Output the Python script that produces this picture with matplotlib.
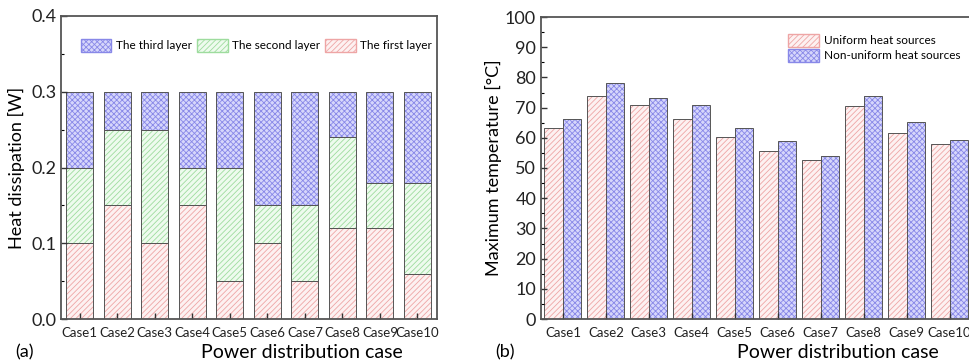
import numpy as np
import matplotlib.pyplot as plt
from matplotlib.patches import Patch

plt.rcParams['font.family'] = ['Lato', 'DejaVu Sans']
plt.rcParams['hatch.linewidth'] = 0.6

cases = ['Case1', 'Case2', 'Case3', 'Case4', 'Case5', 'Case6', 'Case7', 'Case8', 'Case9', 'Case10']

# (a) heat dissipation per layer [W]
first_layer = [0.10, 0.15, 0.10, 0.15, 0.05, 0.10, 0.05, 0.12, 0.12, 0.06]
second_layer = [0.10, 0.10, 0.15, 0.05, 0.15, 0.05, 0.10, 0.12, 0.06, 0.12]
third_layer = [0.10, 0.05, 0.05, 0.10, 0.10, 0.15, 0.15, 0.06, 0.12, 0.12]

# (b) maximum temperature [°C]
uniform = [63.2, 73.8, 70.8, 66.2, 60.3, 55.7, 52.6, 70.4, 61.5, 57.8]
non_uniform = [66.1, 78.2, 73.3, 71.0, 63.4, 58.9, 54.0, 73.8, 65.1, 59.3]

pink_face, pink_hatch = '#fdf1f1', '#eea5a5'
green_face, green_hatch = '#eefbee', '#9edc9e'
blue_face, blue_hatch = '#d6d6fb', '#8888e8'
edge = '#555555'


def hbar(ax, x, h, w, bottom, face, hcol, hatch):
    ax.bar(x, h, w, bottom=bottom, color=face, edgecolor=hcol, hatch=hatch, linewidth=0)
    ax.bar(x, h, w, bottom=bottom, facecolor='none', edgecolor=edge, linewidth=0.7)


fig = plt.figure(figsize=(9.69, 3.63), dpi=100)
W, H = 969, 363
ax1 = fig.add_axes([61 / W, 1 - 319 / H, 376 / W, 303 / H])
ax2 = fig.add_axes([541 / W, 1 - 319 / H, 430 / W, 302 / H])

x = np.arange(1, 11)

# panel (a)
b1 = np.array(first_layer)
b2 = b1 + np.array(second_layer)
hbar(ax1, x, first_layer, 0.72, 0, pink_face, pink_hatch, '//////')
hbar(ax1, x, second_layer, 0.72, b1, green_face, green_hatch, '//////')
hbar(ax1, x, third_layer, 0.72, b2, blue_face, blue_hatch, 'xxxxxx')
ax1.set_xlim(0.5, 10.52)
ax1.set_ylim(0, 0.4)
ax1.set_yticks([0, 0.1, 0.2, 0.3, 0.4])
ax1.set_yticklabels(['0.0', '0.1', '0.2', '0.3', '0.4'])
ax1.set_yticks(np.arange(0.05, 0.4, 0.1), minor=True)
ax1.set_ylabel('Heat dissipation [W]', fontsize=13, labelpad=4)

h3 = Patch(facecolor=blue_face, edgecolor=blue_hatch, hatch='xxxxxx')
h2 = Patch(facecolor=green_face, edgecolor=green_hatch, hatch='//////')
h1 = Patch(facecolor=pink_face, edgecolor=pink_hatch, hatch='//////')
ax1.legend([h3, h2, h1], ['The third layer', 'The second layer', 'The first layer'],
           ncol=3, loc='upper center', bbox_to_anchor=(0.52, 0.96), frameon=False,
           fontsize=8.5, handlelength=2.6, handleheight=1.3, columnspacing=0.4, handletextpad=0.4)

# panel (b)
w = 0.43
hbar(ax2, x - w / 2, uniform, w, 0, pink_face, pink_hatch, '//////')
hbar(ax2, x + w / 2, non_uniform, w, 0, blue_face, blue_hatch, 'xxxxxx')
ax2.set_xlim(0.49, 10.5)
ax2.set_ylim(0, 100)
ax2.set_yticks(np.arange(0, 101, 10))
ax2.set_yticks(np.arange(5, 100, 10), minor=True)
ax2.set_ylabel('Maximum temperature [°C]', fontsize=13, labelpad=2)
ax2.legend([h1, h3], ['Uniform heat sources', 'Non-uniform heat sources'],
           loc='upper right', bbox_to_anchor=(1.0, 0.98), frameon=False,
           fontsize=8.5, handlelength=2.6, handleheight=1.3, handletextpad=0.4,
           labelspacing=0.2)

for ax, lx in ((ax1, 0.64), (ax2, 0.69)):
    ax.set_xticks(x)
    ax.set_xticklabels(cases, fontsize=9.5)
    ax.tick_params(axis='y', labelsize=13, direction='in', length=4, width=1, colors='#333333',
                   labelcolor='#222222')
    ax.tick_params(axis='y', which='minor', direction='in', length=2.5, width=0.8)
    ax.tick_params(axis='x', direction='in', length=4, width=1, pad=6, colors='#333333',
                   labelcolor='#222222')
    for s in ax.spines.values():
        s.set_color('#555555')
        s.set_linewidth(1.3)
    ax.set_xlabel('Power distribution case', fontsize=14)
    ax.xaxis.set_label_coords(lx, -0.11)
    ax.xaxis.label.set_va('center')

fig.text(24 / W, 1 - 352 / H, '(a)', fontsize=13, ha='center', va='center')
fig.text(505 / W, 1 - 352 / H, '(b)', fontsize=13, ha='center', va='center')

fig.savefig('out.png', dpi=100)
